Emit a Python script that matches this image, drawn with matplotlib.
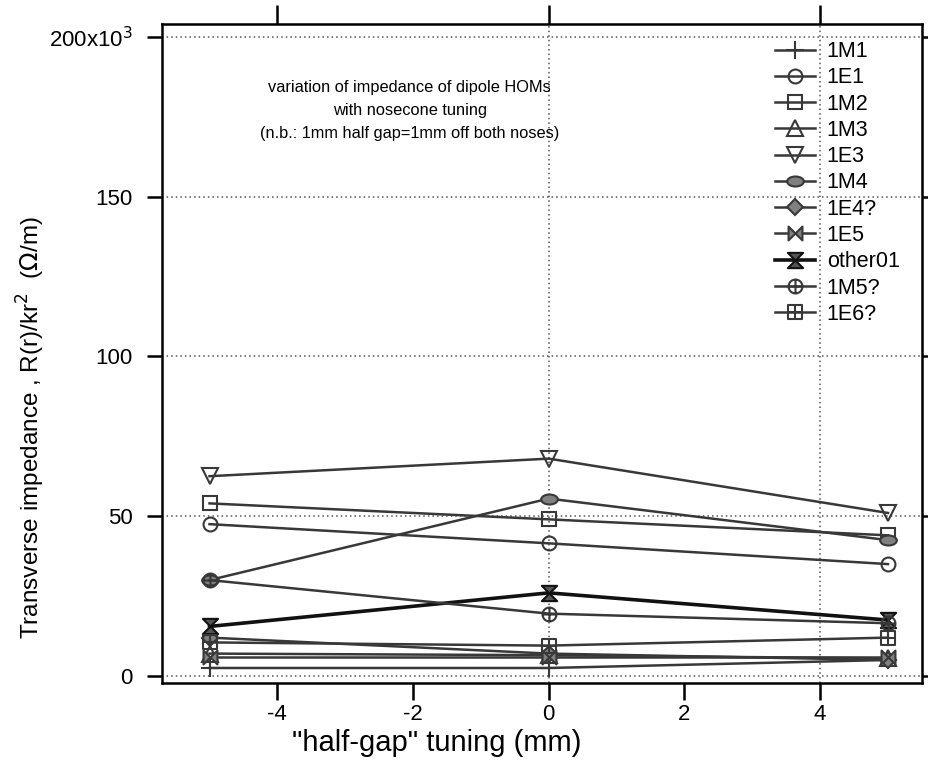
"""Dipole HOM transverse impedance vs nosecone half-gap tuning."""

import matplotlib
matplotlib.use("Agg")
import matplotlib.pyplot as plt
from matplotlib.path import Path
from matplotlib.transforms import Affine2D

plt.rcParams["font.family"] = ["Liberation Sans", "DejaVu Sans"]
plt.rcParams["axes.unicode_minus"] = False

# data (kOhm/m scale as on the plot)
half_gap = [-5, 0, 5]
labels = ["1M1", "1E1", "1M2", "1M3", "1E3", "1M4", "1E4?", "1E5", "other01", "1M5?", "1E6?"]
z_1M1 = [2.5, 2.5, 5.0]
z_1E1 = [47.5, 41.5, 35.0]
z_1M2 = [54.0, 49.0, 44.0]
z_1M3 = [7.0, 6.5, 5.5]
z_1E3 = [62.5, 68.0, 51.0]
z_1M4 = [30.0, 55.5, 42.5]
z_1E4 = [12.0, 7.0, 5.0]
z_1E5 = [6.0, 6.0, 6.0]
z_other01 = [15.5, 26.0, 17.5]
z_1M5 = [30.0, 19.5, 16.5]
z_1E6 = [10.5, 9.5, 12.0]
series = [z_1M1, z_1E1, z_1M2, z_1M3, z_1E3, z_1M4, z_1E4, z_1E5, z_other01, z_1M5, z_1E6]

x_ticks = [-4, -2, 0, 2, 4]
y_ticks = [0, 50, 100, 150, 200]
y_ticklabels = ["0", "50", "100", "150", r"200x10$^3$"]


def _plus():
    return Path([(-1, 0), (1, 0), (0, -1), (0, 1)],
                [Path.MOVETO, Path.LINETO, Path.MOVETO, Path.LINETO])


sq = Path([(-1, -1), (1, -1), (1, 1), (-1, 1), (-1, -1)],
          [Path.MOVETO, Path.LINETO, Path.LINETO, Path.LINETO, Path.CLOSEPOLY])
m_oval = Path.unit_circle().transformed(Affine2D().scale(1.0, 0.6))
m_bowtie = Path([(-1, -1), (-1, 1), (1, -1), (1, 1), (-1, -1)],
                [Path.MOVETO, Path.LINETO, Path.LINETO, Path.LINETO, Path.CLOSEPOLY])
m_hourglass = Path([(-1, 1), (1, 1), (-1, -1), (1, -1), (-1, 1)],
                   [Path.MOVETO, Path.LINETO, Path.LINETO, Path.LINETO, Path.CLOSEPOLY])
m_oplus = Path.make_compound_path(Path.unit_circle(), _plus())
m_boxplus = Path.make_compound_path(sq, _plus())

LC = "#383838"
GF = "#808080"
# marker, size, facecolor, line color, line width
styles = [
    ("+", 13, LC, LC, 1.8),
    ("o", 10, "none", LC, 1.8),
    ("s", 10, "none", LC, 1.8),
    ("^", 11, "none", LC, 1.8),
    ("v", 11, "none", LC, 1.8),
    (m_oval, 12, GF, LC, 1.8),
    ("D", 8.5, GF, LC, 1.8),
    (m_bowtie, 10, GF, LC, 1.8),
    (m_hourglass, 11, "#555555", "#111111", 2.6),
    (m_oplus, 10, "none", LC, 1.8),
    (m_boxplus, 10, "none", LC, 1.8),
]

fig = plt.figure(figsize=(9.29, 7.61), dpi=100)
ax = fig.add_axes([0.1744, 0.1025, 0.818, 0.866])

for vals, lab, (mk, ms, fc, lc, lw) in zip(series, labels, styles):
    ax.plot(half_gap, vals, color=lc, lw=lw, marker=mk, markersize=ms,
            markerfacecolor=fc, markeredgecolor=lc, markeredgewidth=1.5,
            label=lab, zorder=3)

ax.set_xlim(-5.7, 5.5)
ax.set_ylim(-2.2, 204)
ax.set_xticks(x_ticks)
ax.set_yticks(y_ticks)
ax.set_yticklabels(y_ticklabels)
ax.grid(axis="y", linestyle=(0, (1, 2)), color="#555555", lw=1.1, zorder=1)
for xv in (0, 4):
    ax.axvline(xv, linestyle=(0, (1, 2)), color="#555555", lw=1.1, zorder=1)

for s in ax.spines.values():
    s.set_linewidth(1.8)
ax.tick_params(axis="both", direction="out", labelsize=16, width=1.8)
ax.tick_params(axis="x", length=12, pad=3)
ax.tick_params(axis="y", length=11, pad=10)
top = ax.secondary_xaxis("top")
top.set_xticks([-4, 0, 4])
top.set_xticklabels([])
top.tick_params(direction="out", length=14, width=1.8)
right = ax.secondary_yaxis("right")
right.set_yticks(y_ticks)
right.set_yticklabels([])
right.tick_params(direction="out", length=6, width=1.8)

ax.set_xlabel('"half-gap" tuning (mm)', fontsize=21)
ax.xaxis.set_label_coords(0.362, -0.07)
ax.set_ylabel(r"Transverse impedance , R(r)/kr$^2$  ($\Omega$/m)", fontsize=17.5)
ax.yaxis.set_label_coords(-0.152, 0.387)

ax.text(0.326, 0.915, "variation of impedance of dipole HOMs\nwith nosecone tuning\n"
        "(n.b.: 1mm half gap=1mm off both noses)",
        transform=ax.transAxes, ha="center", va="top", fontsize=11.8, linespacing=1.65)

ax.legend(loc="upper left", bbox_to_anchor=(0.834, 0.946), bbox_transform=fig.transFigure,
          frameon=False, fontsize=15.5, handlelength=1.86, handletextpad=0.55,
          labelspacing=0.245, borderpad=0, borderaxespad=0)

fig.savefig("out.png", dpi=100)
